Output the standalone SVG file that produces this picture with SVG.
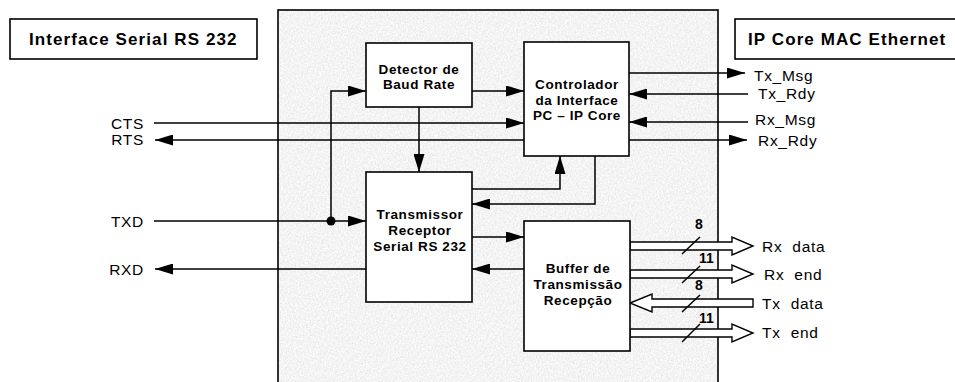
<svg xmlns="http://www.w3.org/2000/svg" width="955" height="382" viewBox="0 0 955 382">
<style>
.box{fill:#fff;stroke:#000;stroke-width:1.6}
.ln{fill:none;stroke:#000;stroke-width:1.5}
.bus{fill:#fff;stroke:#000;stroke-width:1.4}
.nt{font-family:"Liberation Sans",Arial,sans-serif;font-weight:bold;font-size:13.5px;letter-spacing:0.6px;text-anchor:middle;fill:#000}
.tt{font-family:"Liberation Sans",Arial,sans-serif;font-weight:bold;font-size:17px;letter-spacing:1.1px;fill:#000}
.lb{font-family:"Liberation Sans",Arial,sans-serif;font-size:15.5px;letter-spacing:0.7px;fill:#000;white-space:pre}
.lbr{font-family:"Liberation Sans",Arial,sans-serif;font-size:15.5px;letter-spacing:0.7px;fill:#000;text-anchor:end}
.wd{font-family:"Liberation Sans",Arial,sans-serif;font-weight:bold;font-size:14px;fill:#000}
</style>
<defs>
<marker id="ah" markerUnits="userSpaceOnUse" markerWidth="18" markerHeight="11" refX="18" refY="5.5" orient="auto">
<path d="M0,0 L18,5.5 L0,11 z" fill="#000"/>
</marker>
<filter id="noise" x="0" y="0" width="100%" height="100%">
<feTurbulence type="fractalNoise" baseFrequency="0.6" numOctaves="3" seed="5"/>
<feColorMatrix type="matrix" values="0.33 0.33 0.33 0 0  0.33 0.33 0.33 0 0  0.33 0.33 0.33 0 0  0 0 0 0 1"/>
<feComponentTransfer>
<feFuncR type="linear" slope="0.55" intercept="0.63"/>
<feFuncG type="linear" slope="0.55" intercept="0.63"/>
<feFuncB type="linear" slope="0.55" intercept="0.63"/>
</feComponentTransfer>
</filter>
</defs>
<rect width="955" height="382" fill="#fff"/>
<g id="background">
<rect x="278" y="10" width="440" height="380" fill="#e6e6e6"/>
<rect x="278" y="10" width="440" height="380" filter="url(#noise)"/>
<rect x="278" y="10" width="440" height="380" fill="none" stroke="#000" stroke-width="1.6"/>
</g>
<g id="title-left">
<rect class="box" x="10" y="19" width="247" height="40"/>
<text class="tt" x="29" y="45">Interface Serial RS 232</text>
</g>
<g id="title-right">
<rect class="box" x="735" y="19" width="225" height="40"/>
<text class="tt" x="748" y="45">IP Core MAC Ethernet</text>
</g>
<g id="connectors">
<path class="ln" d="M472,91 H524" marker-end="url(#ah)"/>
<path class="ln" d="M331,221 V91 H366" marker-end="url(#ah)"/>
<path class="ln" d="M154,123 H524" marker-end="url(#ah)"/>
<path class="ln" d="M524,140 H155" marker-end="url(#ah)"/>
<path class="ln" d="M419,107 V172" marker-end="url(#ah)"/>
<path class="ln" d="M154,221 H366" marker-end="url(#ah)"/>
<circle cx="331" cy="221" r="4.5" fill="#000"/>
<path class="ln" d="M366,269 H155" marker-end="url(#ah)"/>
<path class="ln" d="M472,189 H560 V156" marker-end="url(#ah)"/>
<path class="ln" d="M595,156 V204 H472" marker-end="url(#ah)"/>
<path class="ln" d="M472,237 H524" marker-end="url(#ah)"/>
<path class="ln" d="M524,269 H472" marker-end="url(#ah)"/>
<path class="ln" d="M629,73 H745" marker-end="url(#ah)"/>
<path class="ln" d="M748,94 H629" marker-end="url(#ah)"/>
<path class="ln" d="M748,122 H629" marker-end="url(#ah)"/>
<path class="ln" d="M629,140 H747" marker-end="url(#ah)"/>
<polygon class="bus" points="630,242 732,242 732,237 753,246 732,255 732,250 630,250"/>
<polygon class="bus" points="630,270 732,270 732,265 753,274 732,283 732,278 630,278"/>
<polygon class="bus" points="753,299 652,299 652,294 630,303 652,312 652,307 753,307"/>
<polygon class="bus" points="630,329 732,329 732,324 753,333 732,342 732,337 630,337"/>
<path class="ln" d="M682,254 L700,237 M682,283 L700,266 M682,312 L700,295 M682,342 L700,324" stroke-width="1.3"/>
<text class="wd" x="695" y="229">8</text>
<text class="wd" x="699" y="263">11</text>
<text class="wd" x="695" y="290">8</text>
<text class="wd" x="699" y="323">11</text>
</g>
<g id="labels">
<text class="lbr" x="144" y="129">CTS</text>
<text class="lbr" x="144" y="145">RTS</text>
<text class="lbr" x="144" y="227">TXD</text>
<text class="lbr" x="144" y="275">RXD</text>
<text class="lb" x="754" y="81">Tx_Msg</text>
<text class="lb" x="758" y="99">Tx_Rdy</text>
<text class="lb" x="755" y="125">Rx_Msg</text>
<text class="lb" x="758" y="146">Rx_Rdy</text>
<text class="lb" x="762" y="252">Rx  data</text>
<text class="lb" x="764" y="280">Rx  end</text>
<text class="lb" x="762" y="309">Tx  data</text>
<text class="lb" x="762" y="338">Tx  end</text>
</g>
<g id="detector">
<rect class="box" x="366" y="43" width="106" height="64"/>
<text class="nt" x="419" y="74">Detector de</text>
<text class="nt" x="419" y="89">Baud Rate</text>
</g>
<g id="controlador">
<rect class="box" x="524" y="42" width="105" height="114"/>
<text class="nt" x="577" y="89">Controlador</text>
<text class="nt" x="577" y="105">da Interface</text>
<text class="nt" x="577" y="120">PC – IP Core</text>
</g>
<g id="transmissor">
<rect class="box" x="366" y="172" width="106" height="130"/>
<text class="nt" x="420" y="219">Transmissor</text>
<text class="nt" x="420" y="235">Receptor</text>
<text class="nt" x="420" y="251">Serial RS 232</text>
</g>
<g id="buffer">
<rect class="box" x="524" y="221" width="106" height="130"/>
<text class="nt" x="578" y="273">Buffer de</text>
<text class="nt" x="578" y="289">Transmissão</text>
<text class="nt" x="578" y="305">Recepção</text>
</g>
</svg>
